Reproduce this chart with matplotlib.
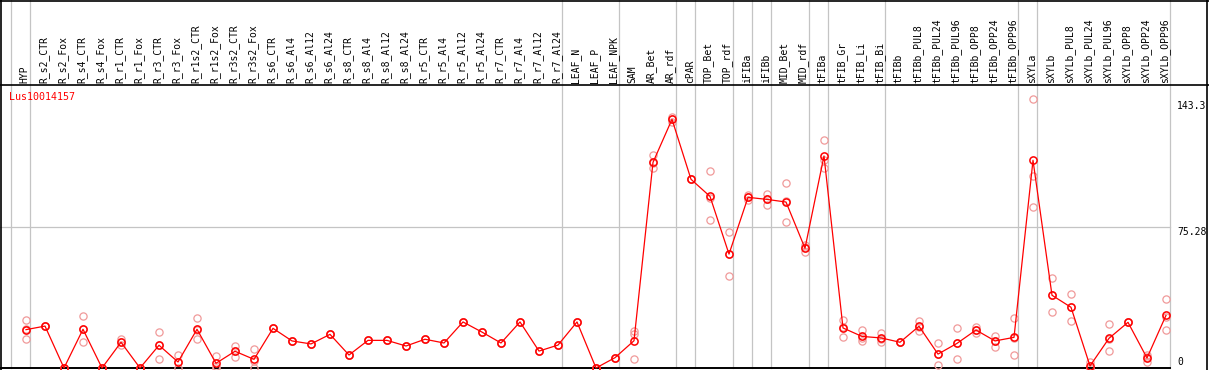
import numpy as np
import matplotlib
matplotlib.use("Agg")
import matplotlib.pyplot as plt

gene = "Lus10014157"

samples = [
    "HYP", "R_s2_CTR", "R_s2_Fox", "R_s4_CTR", "R_s4_Fox", "R_r1_CTR", "R_r1_Fox",
    "R_r3_CTR", "R_r3_Fox", "R_r1s2_CTR", "R_r1s2_Fox", "R_r3s2_CTR", "R_r3s2_Fox",
    "R_s6_CTR", "R_s6_Al4", "R_s6_Al12", "R_s6_Al24", "R_s8_CTR", "R_s8_Al4",
    "R_s8_Al12", "R_s8_Al24", "R_r5_CTR", "R_r5_Al4", "R_r5_Al12", "R_r5_Al24",
    "R_r7_CTR", "R_r7_Al4", "R_r7_Al12", "R_r7_Al24", "LEAF_N", "LEAF_P", "LEAF_NPK",
    "SAM", "AR_Bet", "AR_rdf", "cPAR", "TOP_Bet", "TOP_rdf", "iFIBa", "iFIBb",
    "MID_Bet", "MID_rdf", "tFIBa", "tFIB_Gr", "tFIB_Li", "tFIB_Bi", "tFIBb",
    "tFIBb_PUL8", "tFIBb_PUL24", "tFIBb_PUL96", "tFIBb_OPP8", "tFIBb_OPP24",
    "tFIBb_OPP96", "sXYLa", "sXYLb", "sXYLb_PUL8", "sXYLb_PUL24", "sXYLb_PUL96",
    "sXYLb_OPP8", "sXYLb_OPP24", "sXYLb_OPP96",
]

mean = [
    20.4, 22.3, 0, 20.6, 0, 13.7, 0, 12.1, 3.2, 20.6, 2.5, 8.9, 4.6,
    21.1, 14.4, 12.8, 17.9, 6.9, 14.7, 14.7, 11.7, 15.3, 13.3, 24.5, 19.1,
    13.3, 24.5, 9.0, 12.2, 24.5, 0, 5.5,
    14.5, 109.4, 132.3, 100.4, 91.3, 60.6, 90.8, 89.7, 88.3, 63.7,
    112.8, 21.3, 16.8, 16.0, 13.7, 22.2, 7.4, 13.1, 20.2, 14.4, 16.3,
    110.5, 38.7, 32.3, 1.1, 15.8, 24.3, 5.3, 28.0,
]

rep_hi = [
    25.4, 22.3, 0, 27.7, 0, 15.6, 0, 19.0, 6.7, 26.6, 6.2, 11.7, 10.3,
    21.1, 14.4, 12.8, 17.9, 6.9, 14.7, 14.7, 11.7, 15.3, 13.3, 24.5, 19.1,
    13.3, 24.5, 9.0, 12.2, 24.5, 0, 5.5,
    19.5, 113.3, 133.7, 100.4, 104.8, 72.2, 92.0, 92.6, 98.2, 65.4,
    121.3, 25.5, 20.2, 18.8, 13.7, 25.2, 13.1, 21.3, 21.6, 17.2, 26.4,
    143.3, 47.7, 39.4, 3.4, 23.2, 24.3, 6.9, 36.5,
]

rep_mid = [
    20.5, 22.3, 0, 20.6, 0, 13.7, 0, 12.1, 3.0, 20.0, 1.3, 9.0, 3.5,
    21.1, 14.4, 12.8, 17.9, 6.9, 14.7, 14.7, 11.7, 15.3, 13.3, 24.5, 19.1,
    13.3, 24.5, 9.0, 12.2, 24.5, 0, 5.5,
    18.3, 109.0, 132.3, 100.4, 90.5, 60.6, 91.0, 90.0, 89.0, 64.2,
    110.6, 22.0, 15.8, 15.6, 13.7, 22.0, 7.6, 13.4, 20.2, 14.6, 15.8,
    102.0, 38.6, 32.5, 0, 15.3, 24.3, 5.6, 27.3,
]

rep_lo = [
    15.3, 22.3, 0, 13.8, 0, 12.1, 0, 4.9, 0, 15.3, 0, 6.0, 0,
    21.1, 14.4, 12.8, 17.9, 6.9, 14.7, 14.7, 11.7, 15.3, 13.3, 24.5, 19.1,
    13.3, 24.5, 9.0, 12.2, 24.5, 0, 5.5,
    4.6, 106.2, 131.0, 100.4, 78.7, 48.9, 89.4, 86.5, 77.5, 61.5,
    106.2, 16.5, 14.4, 13.7, 13.7, 19.5, 1.4, 4.6, 18.8, 11.3, 6.7,
    85.5, 29.8, 25.0, 0, 8.9, 24.3, 3.4, 20.2,
]

# last sample of each group (a grey separator follows it)
group_ends = [-1, 0, 28, 31, 34, 35, 37, 38, 39, 41, 42, 45, 52, 53, 60]

y_max = 150.56
y_ticks = [143.3, 75.28]

# layout in pixels
W, H = 1209, 370
x0, step = 26, 19          # pixel x of first sample, spacing
y_zero, y_top = 368, 85    # pixel y of value 0 and of y_max
ppu = (y_zero - y_top) / y_max


def px_x(p):
    return (p - x0) / step


def px_y(p):
    return (y_zero - p) / ppu


red = "#ff0000"
pink = "#f09a9a"
grey = "#c4c4c4"
font = "DejaVu Sans Mono"

fig = plt.figure(figsize=(W / 100, H / 100), dpi=100)
ax = fig.add_axes([0, 0, 1, 1])
ax.set_xlim(px_x(0), px_x(W))
ax.set_ylim(px_y(H), px_y(0))
ax.axis("off")

x = np.arange(len(samples))
right_edge = px_x(1170)

# grey separators and mid grid line
for g in group_ends:
    ax.plot([g + 4 / step] * 2, [0, px_y(0)], color=grey, lw=0.9, zorder=1)
ax.plot([px_x(0), right_edge], [y_ticks[1]] * 2, color=grey, lw=0.9, zorder=1)

# black frame lines
ax.plot([px_x(0), px_x(W)], [px_y(0.5)] * 2, color="black", lw=1.2, zorder=2)
ax.plot([px_x(0), px_x(W)], [y_max] * 2, color="black", lw=1.2, zorder=2)
ax.plot([px_x(0), right_edge], [0, 0], color="black", lw=1.4, zorder=2)
ax.plot([px_x(1.5)] * 2, [px_y(H), px_y(0)], color="black", lw=1.2, zorder=2)
ax.plot([px_x(1207)] * 2, [px_y(H), px_y(0)], color="black", lw=1.2, zorder=2)

# replicates
for reps in (rep_hi, rep_mid, rep_lo):
    ax.plot(x, reps, "o", ms=5.2, mfc="none", mec=pink, mew=0.9,
            zorder=3, clip_on=False)

# mean profile
ax.plot(x, mean, "-o", color=red, lw=0.9, ms=5.2, mfc="none", mec=red,
        mew=1.1, zorder=4, clip_on=False)

# sample labels in header
for i, name in enumerate(samples):
    ax.text(i - 0.07, px_y(83), name, rotation=90, ha="center", va="bottom",
            fontsize=7, family=font, color="black")

ax.text(px_x(9), px_y(97), gene, ha="left", va="center", fontsize=7.2,
        family=font, color=red)

# value labels on the right
ax.text(px_x(1177), px_y(106), f"{y_ticks[0]:g}", ha="left", va="center",
        fontsize=7, family=font, color="black")
ax.text(px_x(1177), px_y(232), f"{y_ticks[1]:g}", ha="left", va="center",
        fontsize=7, family=font, color="black")
ax.text(px_x(1177), px_y(362), "0", ha="left", va="center",
        fontsize=7, family=font, color="black")

fig.savefig("out.png", dpi=100)
